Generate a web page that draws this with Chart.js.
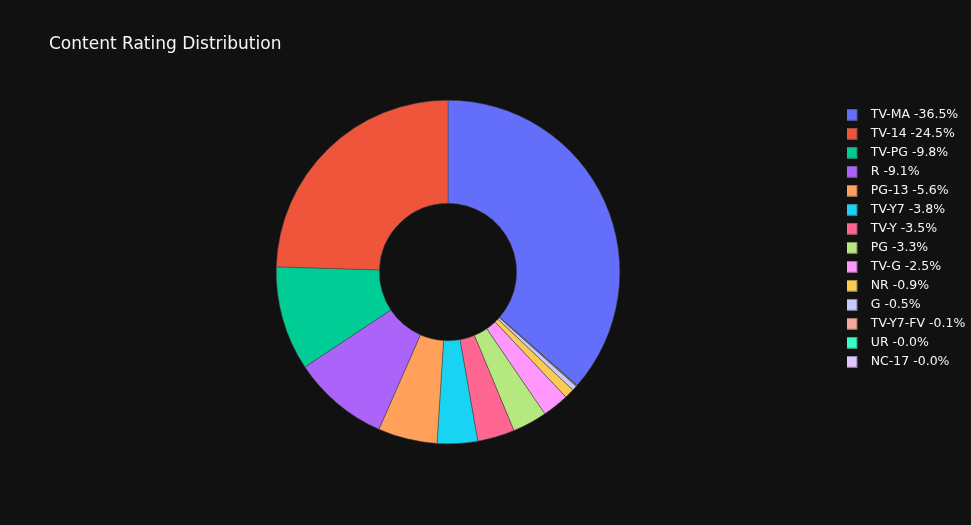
<!DOCTYPE html>
<html>
<head>
<meta charset="utf-8">
<script src="https://cdn.jsdelivr.net/npm/chart.js@4.4.1/dist/chart.umd.min.js"></script>
<style>
  html, body { margin: 0; padding: 0; background: #111111; overflow: hidden; }
  #wrap { width: 971px; height: 525px; position: relative; }
  canvas { display: block; }
</style>
</head>
<body>
<div id="wrap"><canvas id="c" width="971" height="525"></canvas></div>
<script>
// ---- data ----
const categories = ['TV-MA', 'TV-14', 'TV-PG', 'R', 'PG-13', 'TV-Y7', 'TV-Y', 'PG', 'TV-G', 'NR', 'G', 'TV-Y7-FV', 'UR', 'NC-17'];
const shares = [36.46, 24.52, 9.81, 9.08, 5.57, 3.80, 3.49, 3.26, 2.50, 0.91, 0.47, 0.07, 0.03, 0.03];
const sliceColors = ['#636efa', '#EF553B', '#00cc96', '#ab63fa', '#FFA15A', '#19d3f3', '#FF6692', '#B6E880', '#FF97FF', '#FECB52', '#c6cafd', '#f7a799', '#33ffc9', '#e0c6fd'];
const chartTitle = 'Content Rating Distribution';

const legendLabels = categories.map((c, i) => c + ' -' + shares[i].toFixed(1) + '%');

// slices run counter-clockwise in the reference (first slice ends at 12 o'clock);
// Chart.js draws clockwise, so draw the first one, then the rest in reverse.
const drawOrder = [0].concat(categories.map((_, i) => i).slice(1).reverse());

function swatch(color) {
  const cv = document.createElement('canvas');
  cv.width = 27; cv.height = 12;
  const g = cv.getContext('2d');
  g.fillStyle = color;
  g.fillRect(0, 0, 12, 12);
  g.strokeStyle = 'rgba(68,68,68,0.6)';
  g.lineWidth = 1;
  g.strokeRect(0.5, 0.5, 11, 11);
  return cv;
}

function draw() {
  const FONT = '"DejaVu Sans", Verdana, sans-serif';
  new Chart(document.getElementById('c'), {
    type: 'doughnut',
    data: {
      labels: drawOrder.map(i => categories[i]),
      datasets: [{
        data: drawOrder.map(i => shares[i]),
        backgroundColor: drawOrder.map(i => sliceColors[i]),
        borderColor: '#444444',
        borderWidth: 0.5,
        hoverOffset: 0
      }]
    },
    options: {
      responsive: false,
      animation: false,
      events: [],
      cutout: '40%',
      rotation: 0,
      layout: { padding: { left: 49, right: 0, top: 0, bottom: 81 } },
      plugins: {
        tooltip: { enabled: false },
        title: {
          display: true,
          text: chartTitle,
          align: 'start',
          color: '#f2f5fa',
          font: { family: FONT, size: 17, weight: 'normal', lineHeight: 1.2 },
          padding: { top: 34, bottom: 45.6 }
        },
        legend: {
          display: true,
          position: 'right',
          align: 'start',
          fullSize: false,
          maxWidth: 124,
          title: { display: true, text: '', padding: 0, font: { size: 2, lineHeight: 1 } },
          labels: {
            color: '#f2f5fa',
            font: { family: FONT, size: 12.5 },
            padding: 6.5,
            boxHeight: 12,
            usePointStyle: true,
            pointStyleWidth: 11,
            generateLabels: (chart) => legendLabels.map((t, i) => ({
              text: t,
              fillStyle: sliceColors[i],
              strokeStyle: sliceColors[i],
              lineWidth: 0,
              pointStyle: swatch(sliceColors[i]),
              fontColor: '#f2f5fa',
              hidden: false,
              index: i,
              datasetIndex: 0
            }))
          }
        }
      }
    }
  });
}

if (document.fonts && document.fonts.load) {
  Promise.all([
    document.fonts.load('12px "DejaVu Sans"'),
    document.fonts.load('17px "DejaVu Sans"')
  ]).then(draw, draw);
} else {
  draw();
}
</script>
</body>
</html>
